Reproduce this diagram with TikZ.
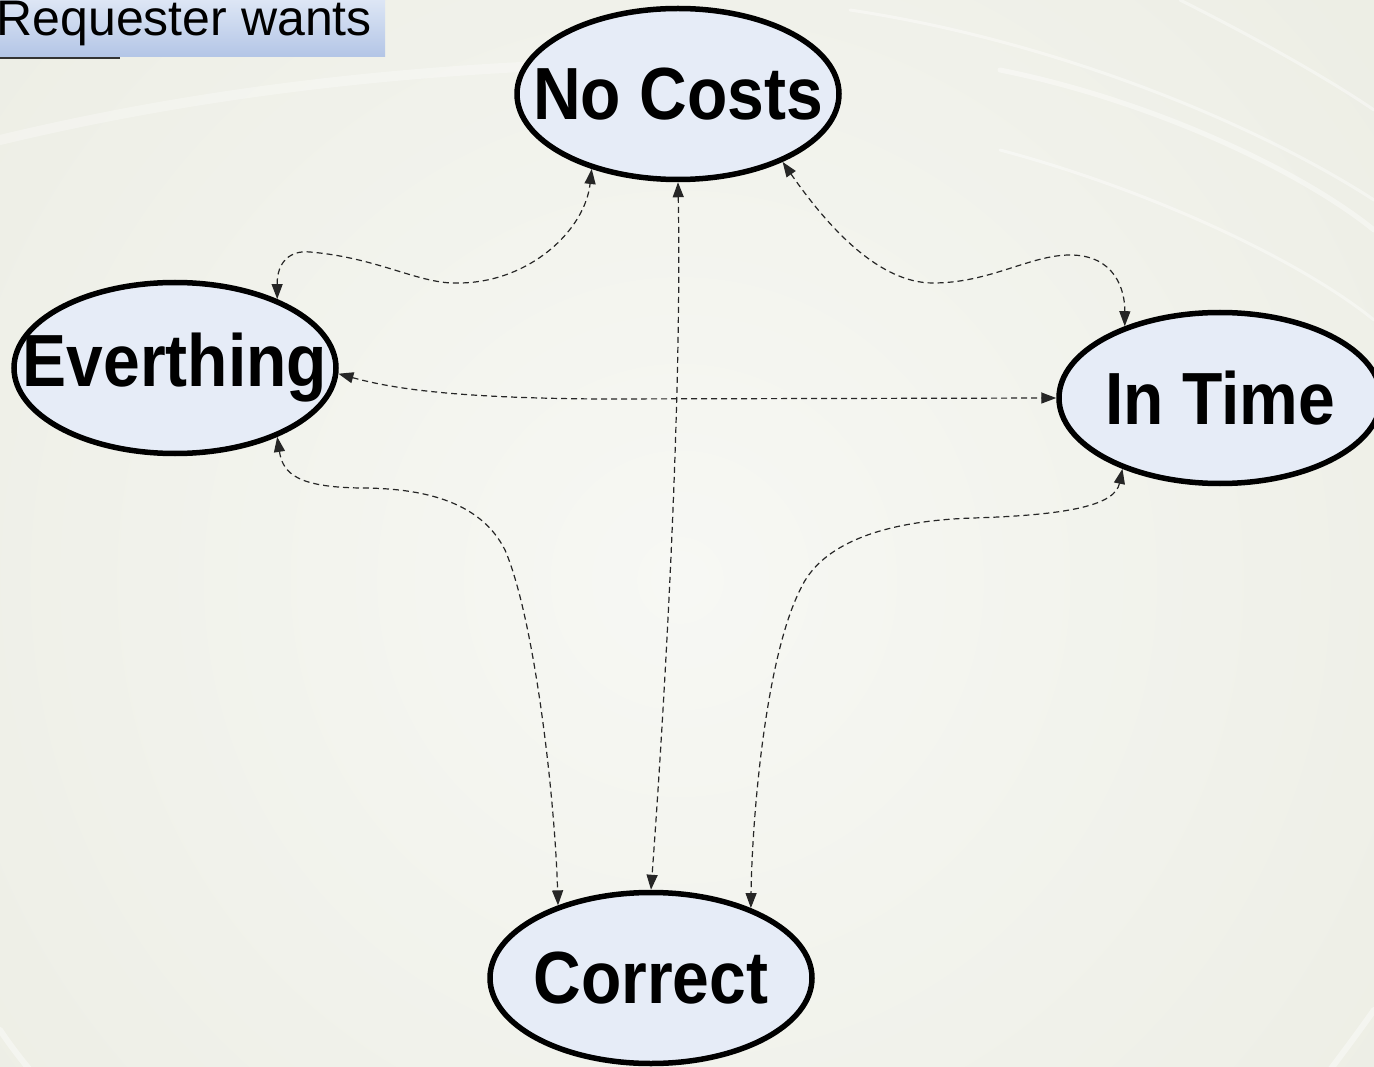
\documentclass[tikz,border=0pt]{standalone}
\usepackage{fontspec}
\setmainfont{Liberation Sans}
\usetikzlibrary{shapes.geometric,arrows.meta}
\definecolor{bgout}{HTML}{E8E9DE}
\definecolor{bgin}{HTML}{F7F8F4}
\definecolor{nodefill}{HTML}{E6ECF7}
\definecolor{conncol}{HTML}{262626}
\definecolor{titletop}{HTML}{DDE6F5}
\definecolor{titlebot}{HTML}{B3C5E6}
\begin{document}
\begin{tikzpicture}[x=1pt,y=-1pt,
  goal/.style={ellipse, draw=black, line width=5.5pt, fill=nodefill,
    minimum width=322pt, minimum height=171pt, inner sep=0pt},
  goaltext/.style={inner sep=0pt, font=\fontsize{66}{70}\selectfont\bfseries},
  conn/.style={draw=conncol, line width=1.2pt, dash pattern=on 6pt off 4pt,
    {Triangle[length=15pt,width=11pt]}-{Triangle[length=15pt,width=11pt]}},
  swirl/.style={draw=white, opacity=0.4, line cap=round}]
\useasboundingbox (0,0) rectangle (1374,1067);
\begin{scope}
  \clip (0,0) rectangle (1374,1067);
  \fill[bgout] (0,0) rectangle (1374,1067);
  \shade[inner color=bgin, outer color=bgout] (680,580) circle[radius=1300pt];
  % faint swirls
  \draw[swirl, line width=10pt, opacity=0.3] (0,140) .. controls (250,80) and (500,60) .. (760,62);
  \draw[swirl, line width=3pt] (850,10) .. controls (1050,40) and (1250,120) .. (1374,200);
  \draw[swirl, line width=5pt] (1000,70) .. controls (1150,100) and (1300,170) .. (1374,230);
  \draw[swirl, line width=3pt] (1000,150) .. controls (1150,190) and (1300,260) .. (1374,320);
  \draw[swirl, line width=3pt] (1180,0) .. controls (1260,40) and (1330,80) .. (1374,110);
  \draw[swirl, line width=6pt] (0,1030) .. controls (10,1045) and (20,1058) .. (30,1070);
  \draw[swirl, line width=6pt] (1330,1070) .. controls (1345,1050) and (1360,1030) .. (1374,1010);
  % title
  \shade[top color=titletop, bottom color=titlebot] (0,0) rectangle (385,57);
  \node[anchor=base east, inner sep=0pt, font=\fontsize{50}{52}\selectfont] (title) at (372,36) {Requester wants};
  \draw[draw=black!80, line width=2.6pt] (0,58) -- (120,58);
\end{scope}

\node[goal] (nc) at (678,94) {};
\node[goal] (ev) at (175,368) {};
\node[goal] (it) at (1220,398) {};
\node[goal] (cr) at (651,978) {};
\node[goaltext] (nct) at (nc.center) {\scalebox{1}[1.12]{No Costs}};
\node[goaltext] (evt) at (ev.center) {\scalebox{1}[1.12]{Everthing}};
\node[goaltext] (itt) at (it.center) {\scalebox{1}[1.12]{In Time}};
\node[goaltext] (crt) at (cr.center) {\scalebox{1}[1.12]{Correct}};

% connectors
\draw[conn] (ev.34.5) .. controls (277,262) and (290,250) .. (310,252)
  .. controls (380,258) and (420,285) .. (460,283)
  .. controls (530,282) and (585,230) .. (nc.221.6);
\draw[conn] (nc.-33.3) .. controls (830,230) and (880,283) .. (933,283)
  .. controls (990,283) and (1030,255) .. (1070,255)
  .. controls (1115,255) and (1125,290) .. (it.143.6);
\draw[conn] (nc.south) .. controls (682,400) and (665,700) .. (cr.north);
\draw[conn] (ev.-2) .. controls (390,388) and (450,398) .. (600,399) -- (it.west);
\draw[conn] (ev.-34) .. controls (283,475) and (300,487) .. (360,488)
  .. controls (420,488) and (480,500) .. (505,550)
  .. controls (535,620) and (555,800) .. (cr.142.7);
\draw[conn] (it.216.3) .. controls (1115,505) and (1070,515) .. (973,518)
  .. controls (880,521) and (820,545) .. (800,590)
  .. controls (765,660) and (752,820) .. (cr.35.9);
\end{tikzpicture}
\end{document}
